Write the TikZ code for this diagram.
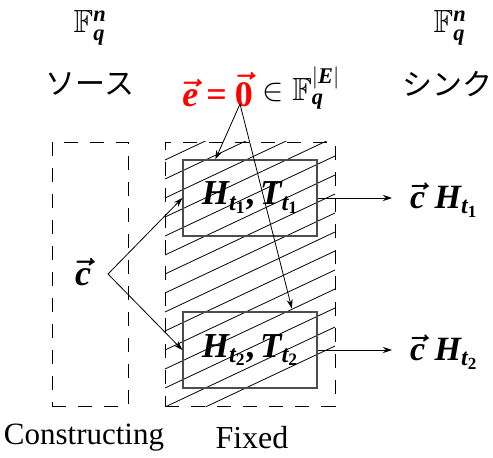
\documentclass[tikz,border=0pt]{standalone}
\usepackage{fix-cm}
\usepackage{amsmath,amssymb}
\DeclareFontFamily{U}{msb}{}
\DeclareFontShape{U}{msb}{m}{n}{<-> msbm10}{}
\usepackage{fontspec}
\setmainfont{Liberation Serif}
\newfontfamily\jpfont{Noto Sans CJK JP}
\usetikzlibrary{arrows.meta, positioning}
\newcommand{\bi}[1]{\text{\bfseries\itshape #1}}
\newcommand{\bvec}[1]{\boldsymbol{\vec{#1}}}

\begin{document}
\begin{tikzpicture}[x=1pt, y=-1pt,
  lbl/.style={font=\fontsize{32}{36}\selectfont, inner sep=0pt},
  jp/.style={font=\fontsize{30}{34}\selectfont\jpfont, inner sep=0pt},
  dbox/.style={draw, dash pattern=on 14pt off 12pt, line width=0.9pt, minimum width=#1, minimum height=264pt, inner sep=0pt},
  hbox/.style={draw=black!70, line width=1.2pt, minimum width=134pt, minimum height=76pt, inner sep=0pt, font=\fontsize{35}{38}\selectfont},
  arr/.style={-{Stealth[length=9pt,width=6pt]}, line width=0.8pt},
  hatch/.style={line width=0.8pt}
]
  \useasboundingbox (0,0) rectangle (493,458);
  % top labels
  \node[lbl] (fsrc) at (90,28)  {$\mathbb{F}_{\bi{q}}^{\bi{n}}$};
  \node[lbl] (fsnk) at (450,28) {$\mathbb{F}_{\bi{q}}^{\bi{n}}$};
  \node[jp]  (src)  at (90,84)  {ソース};
  \node[jp]  (snk)  at (447,84) {シンク};
  \node[lbl, text=red, anchor=east, font=\fontsize{36}{40}\selectfont] (ezero) at (253,90) {$\bvec{\bi{e}}\mathbin{\textbf{=}}\bvec{\textbf{0}}$};
  \node[lbl, anchor=west] (efield) at (262,88) {$\in\mathbb{F}_{\bi{q}}^{|\bi{E}|}$};
  \coordinate (etail) at (240,104);
  % boxes
  \node[dbox=76pt]  (cons)  at (90,274)  {};
  \node[dbox=170pt] (fixed) at (250,274) {};
  \begin{scope}
    \clip (fixed.north west) rectangle (fixed.south east);
    \foreach \k in {-6,...,14}
      \draw[hatch] (165,160+19*\k) -- ++(170,-80);
  \end{scope}
  \node[hbox] (ht1) at (250,198) {$\bi{H}_{\bi{t}_{\textbf{1}}}\textbf{,}\,\bi{T}_{\bi{t}_{\textbf{1}}}$};
  \node[hbox] (ht2) at (250,350) {$\bi{H}_{\bi{t}_{\textbf{2}}}\textbf{,}\,\bi{T}_{\bi{t}_{\textbf{2}}}$};
  % source vector
  \node[lbl, font=\fontsize{36}{40}\selectfont] (cvec) at (83,272) {$\bvec{\bi{c}}$};
  \coordinate (ctail) at (108,274);
  \draw[arr] (ctail) -- (ht1.west);
  \draw[arr] (ctail) -- (ht2.west);
  \draw[arr] (etail) -- ([xshift=33pt]ht1.north west);
  \draw[arr, shorten >=3pt] (etail) -- ([xshift=-25pt]ht2.north east);
  % outputs
  \node[lbl, anchor=west, font=\fontsize{34}{38}\selectfont] (out1) at (410,200) {$\bvec{\bi{c}}\;\bi{H}_{\bi{t}_{\textbf{1}}}$};
  \node[lbl, anchor=west, font=\fontsize{34}{38}\selectfont] (out2) at (410,352) {$\bvec{\bi{c}}\;\bi{H}_{\bi{t}_{\textbf{2}}}$};
  \draw[arr, shorten >=18pt] (ht1.east) -- (ht1.east -| out1.west);
  \draw[arr, shorten >=18pt] (ht2.east) -- (ht2.east -| out2.west);
  % bottom captions
  \node[lbl, font=\fontsize{31}{35}\selectfont] (lcons)  at (84,438)  {Constructing};
  \node[lbl] (lfixed) at (252,438) {Fixed};
\end{tikzpicture}
\end{document}
